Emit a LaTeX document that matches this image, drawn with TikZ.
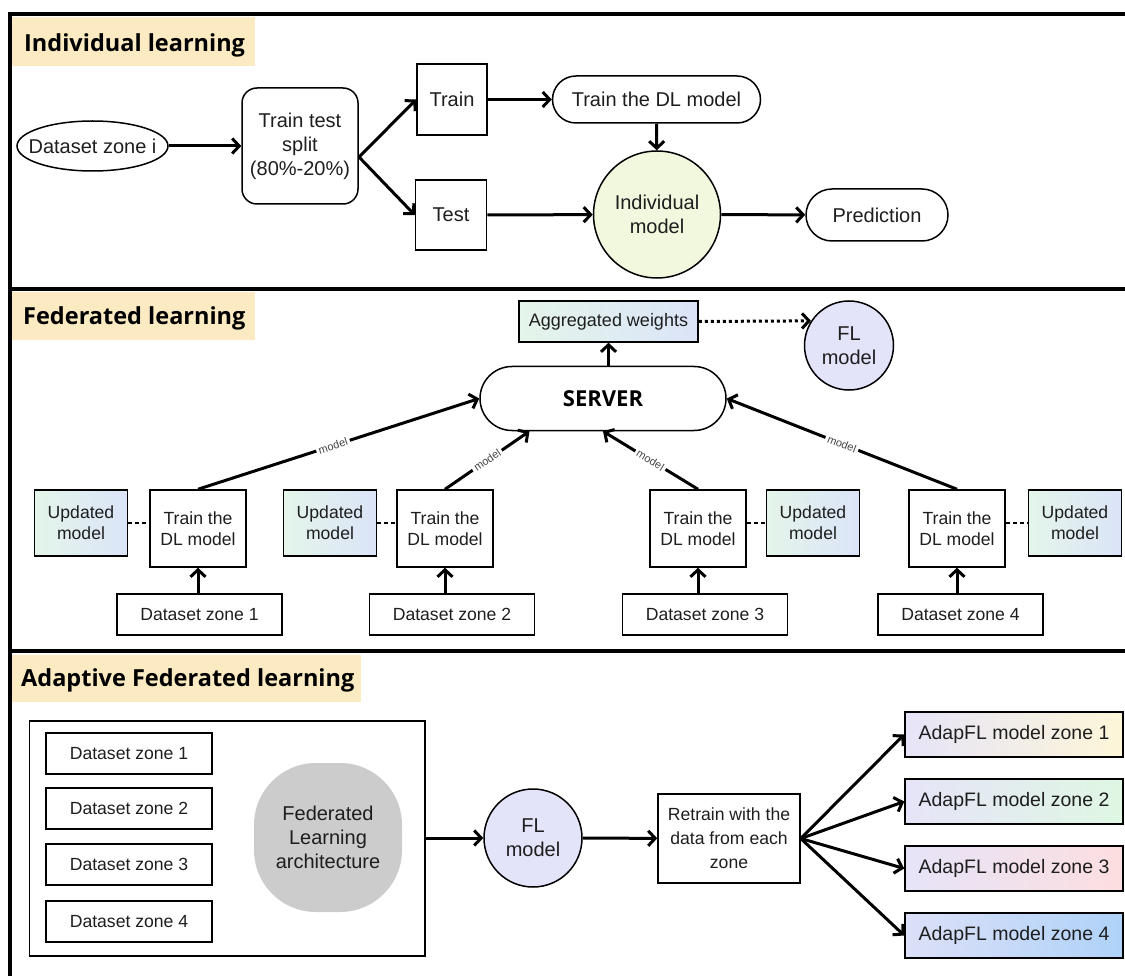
\documentclass[tikz,border=0pt]{standalone}
\usepackage{fontspec}
\setmainfont{Liberation Sans}
\newfontfamily\hdrfont{Open Sans}
\usetikzlibrary{arrows.meta,calc,shapes.geometric}
\definecolor{hdrbg}{HTML}{FCEBC2}
\definecolor{txt}{HTML}{1E1E1E}
\definecolor{indivfill}{HTML}{F1F8DE}
\definecolor{flfill}{HTML}{E3E3FA}
\definecolor{archfill}{HTML}{CCCCCC}
\definecolor{gA}{HTML}{E4F5EA}
\definecolor{gB}{HTML}{DBE4F8}
\definecolor{lav}{HTML}{E6E4F8}
\definecolor{yel}{HTML}{FDF6D8}
\definecolor{grn}{HTML}{DFF7E3}
\definecolor{pnk}{HTML}{FDDEE0}
\definecolor{lavb}{HTML}{DCE0F8}
\definecolor{blu}{HTML}{AED2F8}
\definecolor{labgray}{HTML}{444444}
\begin{document}
\begin{tikzpicture}[x=1pt,y=-1pt,
  every node/.style={text=txt, inner sep=0pt, align=center},
  box/.style={draw=black, line width=1.5pt, rectangle},
  fA/.style={font=\fontsize{20}{24}\selectfont},
  fB/.style={font=\fontsize{17.6}{21}\selectfont},
  hdr/.style={font=\hdrfont\bfseries\fontsize{23.5}{26}\selectfont, text=black, anchor=base west},
  hdrbox/.style={fill=hdrbg, draw=none},
  arr/.style={line width=3pt, -{Straight Barb[length=7pt,width=15pt]}},
  mlab/.style={font=\fontsize{11}{12}\selectfont, text=labgray, fill=white, inner sep=2.5pt, sloped},
  dsh/.style={line width=1.5pt, dash pattern=on 4pt off 3pt},
  frame/.style={line width=3.5pt, black},
  grad/.style={left color=gA, right color=gB}
]
\useasboundingbox (0,0) rectangle (1125,976);
% ---------- frame ----------
\draw[frame] (1125,14) -- (10,14) -- (10,976);
\draw[frame] (10,289) -- (1125,289);
\draw[frame] (10,651) -- (1125,651);

% ---------- Individual learning ----------
\fill[hdrbox] (12,17) rectangle (255,66);
\node[hdr] (h1) at (24,51.5) {Individual learning};

\node[box, ellipse, minimum width=151, minimum height=50, label={[fA]center:Dataset zone i}] (dsi) at (92.5,146) {};
\node[box, rounded corners=15, minimum width=116, minimum height=116, fA] (split) at (300,146) {Train test\\split\\(80\%-20\%)};
\coordinate (sp) at (359,157);
\node[box, minimum width=70, minimum height=71, fA] (train) at (452,99.5) {Train};
\node[box, minimum width=71, minimum height=70, fA] (test) at (451,215) {Test};
\node[box, rounded corners=23.5, minimum width=208, minimum height=47, fA] (tdl) at (656.5,99.5) {Train the DL model};
\node[box, ellipse, fill=indivfill, minimum width=127, minimum height=127, fA] (indiv) at (657,214.5) {Individual\\model};
\node[box, rounded corners=26, minimum width=142, minimum height=52, fA] (pred) at (877,215) {Prediction};

\draw[arr] (dsi) -- (split);
\draw[line width=3pt] (split.east |- sp) -- (sp);
\draw[arr] (sp) -- (train.west);
\draw[arr] (sp) -- (test.west);
\draw[arr] (train) -- (tdl);
\draw[arr] (tdl) -- (indiv);
\draw[arr] (test) -- (indiv);
\draw[arr] (indiv) -- (pred);

% ---------- Federated learning ----------
\fill[hdrbox] (12,292) rectangle (255,340);
\node[hdr] (h2) at (23,325) {Federated learning};

\node[box, grad, minimum width=179, minimum height=41, font=\fontsize{18}{21}\selectfont] (agg) at (608.5,321.5) {Aggregated weights};
\node[box, circle, fill=flfill, minimum size=89, fA] (flm) at (849,345.5) {FL\\model};
\node[box, rounded corners=32, minimum width=246, minimum height=64, font=\hdrfont\bfseries\fontsize{22}{24}\selectfont, text=black] (server) at (603,398.5) {SERVER};

\foreach \i/\x in {1/198,2/445,3/698,4/957}
  \node[box, minimum width=96, minimum height=77, fB] (tr\i) at (\x,528.5) {Train the\\DL model};
\foreach \i/\x in {1/81,2/330,3/813,4/1075}
  \node[box, grad, minimum width=93, minimum height=66, fB] (up\i) at (\x,523) {Updated\\model};
\foreach \i/\x in {1/199.5,2/452,3/705,4/960.5}
  \node[box, minimum width=165, minimum height=41, fB] (ds\i) at (\x,614.5) {Dataset zone \i};

\draw[arr] (agg.south |- server.north) -- (agg.south);
\draw[line width=3pt, dash pattern=on 3pt off 3pt, -{Straight Barb[length=7pt,width=15pt]}] (agg.east) -- (flm.147.4);

\foreach \i in {1,2,3,4}
  \draw[arr] (tr\i.south |- ds\i.north) -- (tr\i.south);
\draw[dsh] (up1.east) -- (up1.east -| tr1.west);
\draw[dsh] (up2.east) -- (up2.east -| tr2.west);
\draw[dsh] (tr3.east |- up3.west) -- (up3.west);
\draw[dsh] (tr4.east |- up4.west) -- (up4.west);

\draw[arr] (tr1.north) -- node[mlab, pos=0.48] {model} (server.west);
\draw[arr] (tr2.north) -- node[mlab, pos=0.5] {model} (server.204.3);
\draw[arr] (tr3.north) -- node[mlab, pos=0.5] {model} (server.south);
\draw[arr] (tr4.north) -- node[mlab, pos=0.5] {model} (server.east);

% ---------- Adaptive Federated learning ----------
\fill[hdrbox] (12,655) rectangle (361,702);
\node[hdr] (h3) at (21,686.5) {Adaptive Federated learning};

\node[box, minimum width=395.4, minimum height=235] (cont) at (227.3,838.5) {};
\foreach \i/\y in {1/753.5,2/808.5,3/864.5,4/921.5}
  \node[box, minimum width=166, minimum height=41, fB] (dz\i) at (129,\y) {Dataset zone \i};
\node[fill=archfill, rounded corners=62, minimum width=148, minimum height=149, fA] (arch) at (328,837.5) {Federated\\Learning\\architecture};
\node[box, circle, fill=flfill, minimum size=98, fA] (fl2) at (533,838) {FL\\model};
\node[box, minimum width=142, minimum height=89, font=\fontsize{17.6}{24}\selectfont] (retr) at (729,838.5) {Retrain with the\\data from each\\zone};
\node[box, left color=lav, right color=yel, minimum width=218, minimum height=45, font=\fontsize{19.5}{22}\selectfont] (ad1) at (1014,734.5) {AdapFL model zone 1};
\node[box, left color=lav, right color=grn, minimum width=218, minimum height=45, font=\fontsize{19.5}{22}\selectfont] (ad2) at (1014,801.5) {AdapFL model zone 2};
\node[box, left color=lav, right color=pnk, minimum width=218, minimum height=45, font=\fontsize{19.5}{22}\selectfont] (ad3) at (1014,868.5) {AdapFL model zone 3};
\node[box, left color=lavb, right color=blu, minimum width=218, minimum height=45, font=\fontsize{19.5}{22}\selectfont] (ad4) at (1014,935.5) {AdapFL model zone 4};

\draw[arr] (cont.east |- fl2.west) -- (fl2.west);
\draw[arr] (fl2) -- (retr);
\foreach \i in {1,2,3,4}
  \draw[arr] (retr.east) -- (ad\i.west);
\end{tikzpicture}
\end{document}
